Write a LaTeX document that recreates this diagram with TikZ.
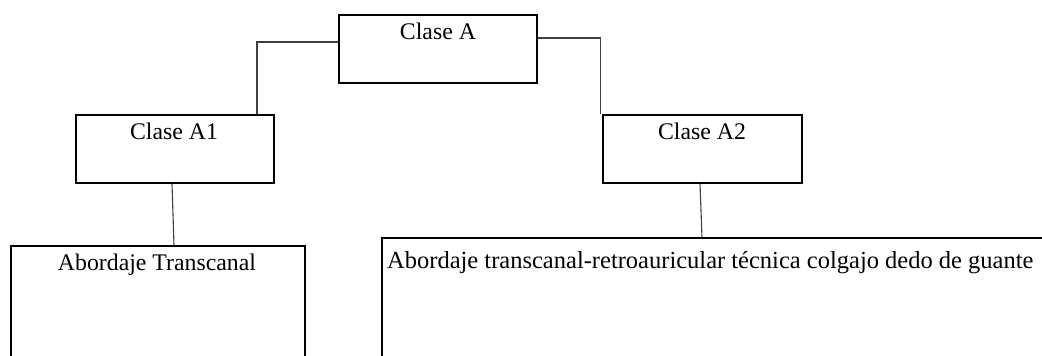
\documentclass[tikz,border=0pt]{standalone}
\usepackage{fontspec}
\setmainfont{Liberation Serif}
\begin{document}
\begin{tikzpicture}[x=1pt,y=-1pt,
  classbox/.style={draw=black, line width=1.4pt, rectangle, inner sep=0pt},
  caption/.style={anchor=base, inner sep=0pt, font=\fontsize{23.8}{28}\selectfont},
  link/.style={draw=black!75, line width=1.1pt}]
  % page frame; the lower boxes run past the page edge
  \path[use as bounding box, clip] (0,0) rectangle (1042,356);
  \fill[white] (0,0) rectangle (1042,356);

  % boxes
  \node[classbox, minimum width=198pt, minimum height=68pt] (A)  at (438,49) {};
  \node[classbox, minimum width=198pt, minimum height=68pt] (A1) at (175,149) {};
  \node[classbox, minimum width=199pt, minimum height=68pt] (A2) at (702.5,149) {};
  \node[classbox, minimum width=294pt, minimum height=140pt] (T) at (158,316) {};
  \node[classbox, minimum width=680pt, minimum height=150pt] (R) at (722,313) {};

  % labels
  \node[caption] (tA)  at (438,39)  {Clase A};
  \node[caption] (tA1) at (174,139) {Clase A1};
  \node[caption] (tA2) at (702,139) {Clase A2};
  \node[caption] (tT)  at (157,270) {Abordaje Transcanal};
  \node[caption, anchor=base west, font=\fontsize{24.5}{28}\selectfont] (tR) at (387,268)
    {Abordaje transcanal-retroauricular técnica colgajo dedo de guante};

  % connectors
  \draw[link] ([yshift=7pt]A.west) -| ([xshift=82pt]A1.north);
  \draw[link] ([yshift=11pt]A.east) -| ([xshift=-1.5pt]A2.north west);
  \draw[link] ([xshift=-3pt]A1.south) -- ([xshift=16pt]T.north);
  \draw[link] ([xshift=-2.5pt]A2.south) -- ([xshift=-20pt]R.north);
\end{tikzpicture}
\end{document}
